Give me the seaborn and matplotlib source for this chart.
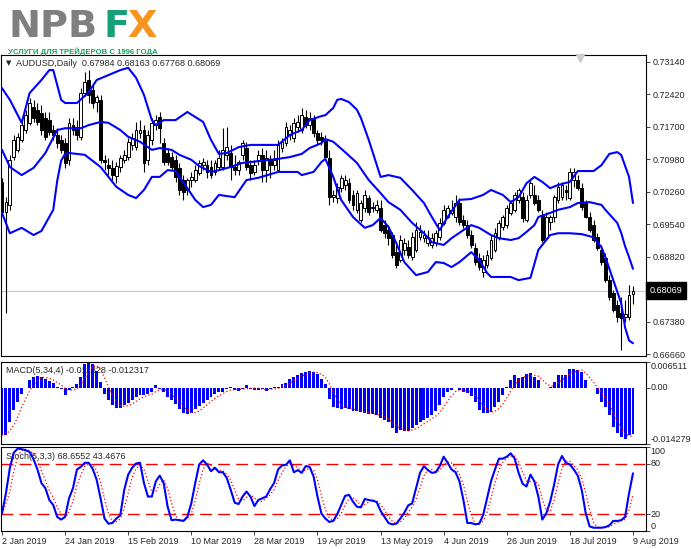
import numpy as np
import pandas as pd
import matplotlib
matplotlib.use("Agg")
import matplotlib.pyplot as plt
import matplotlib.transforms as mtransforms
import seaborn as sns

# -------------------------------------------------------
# DATA (AUDUSD daily, 2 Jan - 9 Aug 2019)
# -------------------------------------------------------

date_labels = ["2 Jan 2019", "24 Jan 2019", "15 Feb 2019", "10 Mar 2019", "28 Mar 2019",
               "19 Apr 2019", "13 May 2019", "4 Jun 2019", "26 Jun 2019", "18 Jul 2019",
               "9 Aug 2019"]
date_bars = [0, 16, 32, 48, 64, 80, 96, 112, 128, 144, 160]

opens = [
    0.7048, 0.6981, 0.6997, 0.7103, 0.7119, 0.7141, 0.7163, 0.7179, 0.7214, 0.7208,
    0.7201, 0.7190, 0.7185, 0.7163, 0.7152, 0.7141, 0.7134, 0.7097, 0.7174, 0.7170,
    0.7148, 0.7245, 0.7274, 0.7252, 0.7225, 0.7230, 0.7097, 0.7085, 0.7079, 0.7061,
    0.7081, 0.7097, 0.7103, 0.7130, 0.7125, 0.7156, 0.7163, 0.7097, 0.7141, 0.7174,
    0.7192, 0.7134, 0.7112, 0.7103, 0.7097, 0.7079, 0.7052, 0.7030, 0.7052, 0.7052,
    0.7068, 0.7085, 0.7085, 0.7081, 0.7070, 0.7081, 0.7081, 0.7108, 0.7112, 0.7081,
    0.7074, 0.7108, 0.7123, 0.7085, 0.7070, 0.7097, 0.7108, 0.7074, 0.7097, 0.7085,
    0.7074, 0.7123, 0.7134, 0.7152, 0.7145, 0.7170, 0.7163, 0.7192, 0.7174, 0.7190,
    0.7156, 0.7148, 0.7141, 0.7101, 0.7014, 0.7012, 0.7034, 0.7041, 0.7045, 0.7019,
    0.6986, 0.6963, 0.6990, 0.7012, 0.6990, 0.6986, 0.6990, 0.6952, 0.6941, 0.6930,
    0.6892, 0.6875, 0.6897, 0.6903, 0.6881, 0.6897, 0.6925, 0.6923, 0.6912, 0.6908,
    0.6912, 0.6925, 0.6957, 0.6970, 0.6979, 0.6970, 0.7001, 0.6963, 0.6952, 0.6930,
    0.6901, 0.6879, 0.6848, 0.6864, 0.6879, 0.6897, 0.6925, 0.6948, 0.6952, 0.6979,
    0.6986, 0.7008, 0.7014, 0.6963, 0.7019, 0.7019, 0.7008, 0.6974, 0.6923, 0.6959,
    0.6970, 0.7008, 0.7014, 0.7030, 0.7012, 0.7052, 0.7052, 0.7034, 0.7001, 0.6970,
    0.6952, 0.6925, 0.6897, 0.6879, 0.6830, 0.6801, 0.6775, 0.6757, 0.6748, 0.6748,
    0.67984]

highs = [
    0.7056, 0.7014, 0.7108, 0.7152, 0.7156, 0.7185, 0.7208, 0.7234, 0.7230, 0.7223,
    0.7219, 0.7203, 0.7203, 0.7174, 0.7167, 0.7152, 0.7145, 0.7190, 0.7190, 0.7185,
    0.7257, 0.7292, 0.7296, 0.7263, 0.7241, 0.7241, 0.7108, 0.7101, 0.7097, 0.7092,
    0.7108, 0.7119, 0.7145, 0.7156, 0.7181, 0.7185, 0.7174, 0.7163, 0.7190, 0.7196,
    0.7203, 0.7145, 0.7123, 0.7114, 0.7108, 0.7090, 0.7063, 0.7057, 0.7070, 0.7085,
    0.7097, 0.7101, 0.7097, 0.7097, 0.7097, 0.7119, 0.7167, 0.7170, 0.7130, 0.7108,
    0.7097, 0.7141, 0.7137, 0.7097, 0.7097, 0.7119, 0.7123, 0.7119, 0.7108, 0.7119,
    0.7141, 0.7145, 0.7181, 0.7174, 0.7190, 0.7196, 0.7212, 0.7208, 0.7203, 0.7196,
    0.7163, 0.7159, 0.7152, 0.7119, 0.7030, 0.7045, 0.7063, 0.7063, 0.7057, 0.7030,
    0.7030, 0.7008, 0.7030, 0.7019, 0.7003, 0.7008, 0.7008, 0.6963, 0.6952, 0.6937,
    0.6908, 0.6930, 0.6923, 0.6919, 0.6937, 0.6959, 0.6952, 0.6941, 0.6941, 0.6934,
    0.6941, 0.6968, 0.6997, 0.6997, 0.7008, 0.7019, 0.7012, 0.6974, 0.6963, 0.6941,
    0.6912, 0.6890, 0.6886, 0.6897, 0.6930, 0.6946, 0.6963, 0.6974, 0.6997, 0.7008,
    0.7026, 0.7034, 0.7026, 0.7019, 0.7052, 0.7041, 0.7019, 0.6986, 0.6981, 0.6974,
    0.7019, 0.7048, 0.7048, 0.7041, 0.7079, 0.7079, 0.7063, 0.7045, 0.7008, 0.6981,
    0.6963, 0.6934, 0.6908, 0.6890, 0.6841, 0.6808, 0.6786, 0.6792, 0.6786, 0.6819,
    0.68163]

lows = [
    0.6977, 0.6757, 0.6986, 0.7097, 0.7114, 0.7137, 0.7156, 0.7174, 0.7181, 0.7174,
    0.7152, 0.7141, 0.7152, 0.7141, 0.7123, 0.7112, 0.7079, 0.7085, 0.7152, 0.7141,
    0.7141, 0.7239, 0.7223, 0.7212, 0.7203, 0.7090, 0.7074, 0.7063, 0.7052, 0.7045,
    0.7070, 0.7090, 0.7097, 0.7119, 0.7119, 0.7145, 0.7070, 0.7085, 0.7130, 0.7163,
    0.7134, 0.7085, 0.7085, 0.7074, 0.7048, 0.7019, 0.7008, 0.7019, 0.7037, 0.7048,
    0.7063, 0.7074, 0.7057, 0.7057, 0.7063, 0.7074, 0.7074, 0.7097, 0.7052, 0.7063,
    0.7063, 0.7097, 0.7074, 0.7052, 0.7063, 0.7085, 0.7048, 0.7048, 0.7057, 0.7074,
    0.7070, 0.7114, 0.7128, 0.7141, 0.7137, 0.7159, 0.7156, 0.7167, 0.7163, 0.7148,
    0.7130, 0.7130, 0.7097, 0.6997, 0.7003, 0.7001, 0.7026, 0.7030, 0.7001, 0.6986,
    0.6979, 0.6959, 0.6981, 0.6974, 0.6981, 0.6979, 0.6937, 0.6923, 0.6908, 0.6879,
    0.6857, 0.6870, 0.6886, 0.6879, 0.6875, 0.6892, 0.6919, 0.6914, 0.6906, 0.6901,
    0.6906, 0.6919, 0.6952, 0.6968, 0.6974, 0.6959, 0.6952, 0.6946, 0.6923, 0.6901,
    0.6864, 0.6852, 0.6837, 0.6857, 0.6875, 0.6892, 0.6919, 0.6941, 0.6946, 0.6974,
    0.6981, 0.7001, 0.6959, 0.6959, 0.7012, 0.6997, 0.6981, 0.6914, 0.6919, 0.6941,
    0.6959, 0.7001, 0.7008, 0.7008, 0.7008, 0.7037, 0.7030, 0.6986, 0.6968, 0.6937,
    0.6914, 0.6897, 0.6864, 0.6826, 0.6786, 0.6759, 0.6737, 0.6675, 0.6737, 0.6741,
    0.67768]

closes = [
    0.6981, 0.7003, 0.7097, 0.7141, 0.7148, 0.7174, 0.7196, 0.7223, 0.7190, 0.7181,
    0.7163, 0.7148, 0.7159, 0.7152, 0.7134, 0.7119, 0.7090, 0.7179, 0.7163, 0.7152,
    0.7245, 0.7270, 0.7241, 0.7223, 0.7236, 0.7097, 0.7092, 0.7079, 0.7063, 0.7083,
    0.7101, 0.7108, 0.7137, 0.7145, 0.7163, 0.7163, 0.7090, 0.7152, 0.7179, 0.7185,
    0.7167, 0.7092, 0.7092, 0.7081, 0.7059, 0.7030, 0.7026, 0.7052, 0.7059, 0.7074,
    0.7090, 0.7092, 0.7070, 0.7063, 0.7090, 0.7101, 0.7119, 0.7125, 0.7081, 0.7074,
    0.7092, 0.7134, 0.7081, 0.7068, 0.7085, 0.7108, 0.7074, 0.7101, 0.7085, 0.7097,
    0.7130, 0.7137, 0.7170, 0.7163, 0.7179, 0.7181, 0.7196, 0.7174, 0.7190, 0.7156,
    0.7141, 0.7141, 0.7103, 0.7014, 0.7019, 0.7037, 0.7057, 0.7052, 0.7008, 0.6997,
    0.7023, 0.7001, 0.7019, 0.6981, 0.6992, 0.6997, 0.6941, 0.6934, 0.6923, 0.6886,
    0.6864, 0.6919, 0.6912, 0.6886, 0.6925, 0.6941, 0.6937, 0.6930, 0.6925, 0.6923,
    0.6934, 0.6957, 0.6986, 0.6990, 0.6986, 0.7001, 0.6959, 0.6952, 0.6930, 0.6908,
    0.6870, 0.6859, 0.6875, 0.6886, 0.6919, 0.6934, 0.6957, 0.6970, 0.6990, 0.7001,
    0.7019, 0.7030, 0.6968, 0.7008, 0.7045, 0.7001, 0.6986, 0.6919, 0.6970, 0.6970,
    0.7014, 0.7037, 0.7041, 0.7026, 0.7070, 0.7070, 0.7034, 0.6992, 0.6970, 0.6941,
    0.6919, 0.6901, 0.6870, 0.6830, 0.6792, 0.6763, 0.6748, 0.6746, 0.6754, 0.6797,
    0.68069]

# Bollinger bands as drawn (bar index, price)
upper_bar = [0, 2, 5, 7, 10, 12, 13, 14, 15, 16, 19, 22, 24, 27, 30, 32, 34, 36, 38, 39,
             41, 44, 47, 49, 51, 53, 55, 57, 60, 63, 70, 73, 76, 78, 81, 82, 84, 85, 86, 88,
             90, 91, 93, 96, 98, 101, 104, 107, 109, 111, 113, 116, 119, 122, 124, 127, 129, 131, 133, 135,
             137, 139, 141, 144, 146, 150, 152, 154, 156, 157, 159, 160]
upper_band = [0.7256, 0.7230, 0.7179, 0.7245, 0.7274, 0.7296, 0.7296, 0.7263, 0.7230, 0.7223,
              0.7223, 0.7247, 0.7274, 0.7285, 0.7296, 0.7301, 0.7279, 0.7241, 0.7185, 0.7174,
              0.7185, 0.7185, 0.7203, 0.7192, 0.7181, 0.7141, 0.7110, 0.7112, 0.7125, 0.7130,
              0.7130, 0.7152, 0.7163, 0.7185, 0.7194, 0.7196, 0.7212, 0.7230, 0.7232, 0.7225,
              0.7208, 0.7190, 0.7141, 0.7059, 0.7063, 0.7057, 0.7030, 0.7001, 0.6970, 0.6941,
              0.6970, 0.7008, 0.7010, 0.7019, 0.7030, 0.7019, 0.7003, 0.7014, 0.7045, 0.7059,
              0.7048, 0.7034, 0.7041, 0.7048, 0.7072, 0.7072, 0.7085, 0.7110, 0.7114, 0.7108,
              0.7059, 0.7001]

middle_bar = [0, 2, 5, 8, 11, 14, 16, 20, 22, 25, 27, 30, 32, 35, 38, 40, 43, 45, 48, 50,
              53, 55, 58, 61, 65, 70, 73, 76, 78, 81, 82, 84, 87, 90, 93, 96, 98, 101, 104, 107,
              109, 112, 114, 117, 119, 121, 124, 126, 129, 131, 133, 135, 136, 139, 141, 144, 146, 149, 152, 153,
              156, 157, 158, 159, 160]
middle_band = [0.7119, 0.7081, 0.7063, 0.7079, 0.7112, 0.7163, 0.7167, 0.7167, 0.7174, 0.7181,
               0.7179, 0.7163, 0.7148, 0.7137, 0.7119, 0.7123, 0.7119, 0.7108, 0.7097, 0.7083,
               0.7070, 0.7074, 0.7081, 0.7090, 0.7094, 0.7099, 0.7103, 0.7110, 0.7123, 0.7134,
               0.7143, 0.7137, 0.7114, 0.7090, 0.7052, 0.7023, 0.7003, 0.6986, 0.6957, 0.6934,
               0.6914, 0.6908, 0.6923, 0.6941, 0.6952, 0.6946, 0.6930, 0.6923, 0.6919, 0.6923,
               0.6937, 0.6952, 0.6970, 0.6979, 0.6986, 0.6992, 0.7001, 0.7003, 0.6997, 0.6986,
               0.6957, 0.6935, 0.6905, 0.6881, 0.6855]

lower_bar = [0, 2, 5, 8, 10, 13, 14, 15, 16, 17, 21, 25, 27, 29, 32, 34, 36, 38, 40, 42,
             44, 47, 49, 51, 53, 55, 59, 62, 65, 70, 75, 76, 79, 81, 82, 84, 86, 89, 92, 94,
             96, 98, 100, 102, 105, 108, 110, 112, 114, 116, 119, 121, 123, 124, 129, 131, 134, 136, 139, 141,
             144, 147, 150, 152, 153, 155, 157, 158, 159, 160]
lower_band = [0.6979, 0.6934, 0.6946, 0.6930, 0.6939, 0.6986, 0.7050, 0.7095, 0.7110, 0.7112,
              0.7108, 0.7081, 0.7059, 0.7037, 0.7019, 0.7012, 0.7030, 0.7059, 0.7059, 0.7074,
              0.7072, 0.7034, 0.7008, 0.6992, 0.6997, 0.7019, 0.7014, 0.7052, 0.7057, 0.7070,
              0.7070, 0.7063, 0.7070, 0.7092, 0.7099, 0.7059, 0.7008, 0.6970, 0.6946, 0.6952,
              0.6968, 0.6948, 0.6912, 0.6870, 0.6841, 0.6848, 0.6870, 0.6868, 0.6859, 0.6870,
              0.6892, 0.6875, 0.6846, 0.6837, 0.6837, 0.6830, 0.6835, 0.6897, 0.6930, 0.6934,
              0.6934, 0.6932, 0.6925, 0.6903, 0.6881, 0.6830, 0.6779, 0.6725, 0.6696, 0.6690]

# MACD(5,34,4) main line (histogram)
macd_main = [
    -0.01198, -0.01190, -0.00863, -0.00570, -0.00360, -0.00168, -0.00017, 0.00201, 0.00268, 0.00285,
    0.00268, 0.00226, 0.00168, 0.00117, 0.00017, -0.00025, -0.00193, -0.00050, 0.00017, 0.00101,
    0.00268, 0.00590, 0.00651, 0.00600, 0.00419, 0.00142, -0.00151, -0.00318, -0.00444, -0.00503,
    -0.00503, -0.00444, -0.00385, -0.00318, -0.00235, -0.00193, -0.00193, -0.00151, -0.00109, 0.00059,
    -0.00025, -0.00109, -0.00235, -0.00318, -0.00402, -0.00528, -0.00654, -0.00670, -0.00654, -0.00553,
    -0.00469, -0.00385, -0.00318, -0.00235, -0.00151, -0.00109, -0.00109, -0.00025, 0.00005, -0.00050,
    -0.00084, -0.00025, 0.00059, -0.00025, -0.00050, -0.00050, -0.00025, -0.00084, -0.00025, 0.00005,
    0.00017, 0.00101, 0.00117, 0.00226, 0.00268, 0.00310, 0.00369, 0.00394, 0.00419, 0.00394,
    0.00335, 0.00226, 0.00101, -0.00277, -0.00486, -0.00503, -0.00528, -0.00503, -0.00553, -0.00587,
    -0.00587, -0.00612, -0.00654, -0.00670, -0.00670, -0.00696, -0.00779, -0.00821, -0.00863, -0.01031,
    -0.01140, -0.01073, -0.01089, -0.01089, -0.01031, -0.00947, -0.00863, -0.00821, -0.00779, -0.00696,
    -0.00587, -0.00444, -0.00235, -0.00109, -0.00050, -0.00008, -0.00067, -0.00109, -0.00134, -0.00218,
    -0.00360, -0.00570, -0.00637, -0.00654, -0.00612, -0.00486, -0.00360, -0.00193, 0.00017, 0.00184,
    0.00310, 0.00243, 0.00268, 0.00352, 0.00369, 0.00268, 0.00184, -0.00008, -0.00017, 0.00017,
    0.00142, 0.00310, 0.00310, 0.00310, 0.00478, 0.00478, 0.00453, 0.00394, 0.00184, 0.00003,
    -0.00017, -0.00151, -0.00360, -0.00486, -0.00696, -0.00989, -0.01156, -0.01240, -0.01300, -0.01204,
    -0.011828]

# Stochastic(5,3,3) main line
stoch_main = [
    20.8, 45.0, 75.2, 93.3, 98.1, 97.4, 96.1, 94.1, 85.3, 73.2,
    57.1, 51.0, 36.9, 30.9, 16.8, 13.6, 16.8, 38.9, 51.0, 73.2,
    76.4, 81.2, 81.2, 74.0, 61.1, 38.9, 14.8, 8.7, 9.5, 14.8,
    18.8, 49.0, 67.1, 75.2, 80.4, 81.2, 57.1, 41.0, 41.0, 59.1,
    65.9, 57.1, 28.9, 12.8, 13.6, 12.8, 12.0, 16.8, 32.9, 57.1,
    79.2, 84.1, 79.2, 71.2, 75.2, 70.0, 70.0, 63.1, 49.0, 33.7,
    32.1, 41.0, 47.0, 41.0, 29.7, 36.9, 38.9, 41.0, 49.8, 57.1,
    73.2, 78.0, 78.8, 84.1, 70.0, 72.4, 69.2, 77.2, 76.4, 65.1,
    41.0, 20.8, 14.8, 10.8, 12.0, 20.0, 30.9, 41.8, 43.0, 34.9,
    28.9, 28.1, 38.1, 36.9, 36.1, 34.5, 24.0, 16.8, 9.5, 7.9,
    8.7, 14.8, 21.6, 30.5, 32.9, 51.0, 69.2, 77.2, 72.4, 69.2,
    70.0, 77.2, 88.5, 81.2, 73.2, 70.0, 59.1, 36.9, 9.5, 9.5,
    7.9, 8.7, 18.8, 38.9, 59.1, 73.2, 86.1, 86.1, 88.5, 92.5,
    86.1, 69.2, 56.3, 53.0, 67.1, 59.1, 41.0, 13.6, 20.8, 34.9,
    55.1, 79.2, 89.3, 81.2, 79.2, 73.2, 65.9, 49.0, 21.6, 5.5,
    3.9, 3.9, 3.9, 4.7, 6.7, 12.0, 12.0, 12.8, 16.8, 44.9,
    68.6552]

price_ticks = [0.73140, 0.72420, 0.71700, 0.70980, 0.70260, 0.69540, 0.68820, 0.67380, 0.66660]
last_price = 0.68069

# -------------------------------------------------------
# FIGURE LAYOUT
# -------------------------------------------------------

sns.set_style("white")
plt.rcParams["font.family"] = ["Liberation Sans", "DejaVu Sans"]

W, H = 691, 549
fig = plt.figure(figsize=(W / 100, H / 100), dpi=100)


def px_box(x0, y0, x1, y1):
    return [x0 / W, 1 - y1 / H, (x1 - x0) / W, (y1 - y0) / H]


ax = fig.add_axes(px_box(1, 55, 646, 356))
ax_m = fig.add_axes(px_box(1, 362, 646, 444))
ax_s = fig.add_axes(px_box(1, 447, 646, 531))

BLUE = "#0000ff"
FS = 6.5
bars = np.arange(len(closes))
xlim = (-0.25, 163.3)

for a in (ax, ax_m, ax_s):
    a.set_xlim(*xlim)
    a.set_facecolor("white")
    for sp in a.spines.values():
        sp.set_color("black")
        sp.set_linewidth(0.8)
    a.yaxis.tick_right()
    a.tick_params(axis="y", length=3, width=0.6, pad=2, labelsize=FS, direction="out")
    a.set_xticks([])
    a.set_xlabel("")
    a.set_ylabel("")

# -------------------------------------------------------
# PRICE PANEL: candles + Bollinger bands
# -------------------------------------------------------

o = np.array(opens)
h = np.array(highs)
l = np.array(lows)
c = np.array(closes)
up = c >= o
body_lo = np.minimum(o, c)
body_h = np.maximum(np.abs(c - o), 0.00005)

ax.axhline(last_price, color="#c8c8c8", lw=0.8, zorder=1)
ax.vlines(bars, l, h, color="black", lw=0.8, zorder=2)
ax.bar(bars[up], body_h[up], bottom=body_lo[up], width=0.72, color="white",
       edgecolor="black", linewidth=0.7, zorder=3)
ax.bar(bars[~up], body_h[~up], bottom=body_lo[~up], width=0.72, color="black",
       edgecolor="black", linewidth=0.7, zorder=3)

for xs, ys in ((upper_bar, upper_band), (middle_bar, middle_band), (lower_bar, lower_band)):
    sns.lineplot(x=xs, y=ys, ax=ax, color=BLUE, lw=1.5, zorder=4, estimator=None)

ax.set_ylim(0.66616, 0.73295)
ax.set_yticks(price_ticks)
ax.set_yticklabels([f"{v:.5f}" for v in price_ticks])
ax.set_xticks([])

blend = mtransforms.blended_transform_factory(ax.transAxes, ax.transData)
ax.text(1.005, last_price, f"{last_price:.5f}", transform=blend, ha="left", va="center",
        color="white", fontsize=FS,
        bbox=dict(boxstyle="square,pad=0.4", fc="black", ec="black"), clip_on=False)

ax.text(0.007, 0.972, "\u25bc", transform=ax.transAxes, fontsize=5, va="center",
        family=["DejaVu Sans"])
ax.text(0.024, 0.972, "AUDUSD,Daily  0.67984 0.68163 0.67768 0.68069",
        transform=ax.transAxes, fontsize=FS, va="center")
ax.plot([0.898], [0.99], marker="v", ms=6, color="#cccccc", mec="#cccccc",
        transform=ax.transAxes, clip_on=False, zorder=5)

# -------------------------------------------------------
# MACD PANEL
# -------------------------------------------------------

macd_signal = pd.Series(macd_main).rolling(4, min_periods=1).mean()
ax_m.text(0.008, 0.90, "MACD(5,34,4) -0.011828 -0.012317", transform=ax_m.transAxes,
          fontsize=FS, va="center", zorder=1)
ax_m.bar(bars, macd_main, width=0.75, color=BLUE, linewidth=0, zorder=2)
sns.lineplot(x=bars, y=macd_signal.values, ax=ax_m, color="red", lw=0.9, zorder=3,
             estimator=None)
ax_m.get_lines()[-1].set_linestyle((0, (1, 1.8)))
ax_m.set_ylim(-0.014279, 0.006511)
ax_m.set_yticks([0.006511, 0.0, -0.014279])
ax_m.set_yticklabels([])
ax_m.set_xticks([])
bm = mtransforms.blended_transform_factory(ax_m.transAxes, ax_m.transData)
ax_m.text(1.007, 0.006511, "0.006511", transform=bm, ha="left", va="top", fontsize=FS)
ax_m.text(1.007, 0.0, "0.00", transform=bm, ha="left", va="center", fontsize=FS)
ax_m.text(1.007, -0.014279, "-0.014279", transform=bm, ha="left", va="bottom", fontsize=FS)

# -------------------------------------------------------
# STOCHASTIC PANEL
# -------------------------------------------------------

stoch_signal = pd.Series(stoch_main).rolling(3, min_periods=1).mean()
ax_s.text(0.008, 0.885, "Stoch(5,3,3) 68.6552 43.4676", transform=ax_s.transAxes,
          fontsize=FS, va="center", zorder=1)
for lvl in (80, 20):
    ax_s.axhline(lvl, color="red", lw=1.0, linestyle=(0, (8.5, 4.5)), zorder=2)
sns.lineplot(x=bars, y=stoch_signal.values, ax=ax_s, color="red", lw=0.9, zorder=3,
             estimator=None)
ax_s.get_lines()[-1].set_linestyle((0, (1, 1.8)))
sns.lineplot(x=bars, y=stoch_main, ax=ax_s, color=BLUE, lw=1.5, zorder=4, estimator=None)
ax_s.set_ylim(0, 100)
ax_s.set_yticks([100, 80, 20, 0])
ax_s.set_yticklabels([])
bs = mtransforms.blended_transform_factory(ax_s.transAxes, ax_s.transData)
ax_s.text(1.007, 100, "100", transform=bs, ha="left", va="top", fontsize=FS)
ax_s.text(1.007, 80, "80", transform=bs, ha="left", va="center", fontsize=FS)
ax_s.text(1.007, 20, "20", transform=bs, ha="left", va="center", fontsize=FS)
ax_s.text(1.007, 0, "0", transform=bs, ha="left", va="bottom", fontsize=FS)

ax_s.set_xticks(date_bars)
ax_s.set_xticklabels(date_labels, ha="left", fontsize=FS)
ax_s.tick_params(axis="x", length=3, width=0.6, pad=1.5, direction="out", bottom=True)

# -------------------------------------------------------
# LOGO
# -------------------------------------------------------

base = 1 - 37 / H
logo_kw = dict(fontsize=27.5, fontweight="bold", family=["DejaVu Sans"], va="baseline")
fig.text(8 / W, base, "NPB", color="#7f7f7f", **logo_kw)
fig.text(103.5 / W, base, "F", color="#17a077", **logo_kw)
fig.text(127.5 / W, base, "X", color="#f7941d", **logo_kw)

sub = fig.text(8 / W, 1 - 53.5 / H, "УСЛУГИ ДЛЯ ТРЕЙДЕРОВ С 1996 ГОДА", fontsize=7.5,
               fontweight="bold", color="#17a05a", va="baseline",
               family=["Liberation Sans Narrow", "Liberation Sans", "DejaVu Sans"])
renderer = fig.canvas.get_renderer()
wpx = sub.get_window_extent(renderer=renderer).width
if wpx > 150:
    sub.set_fontsize(7.5 * 150 / wpx)

fig.savefig("out.png", dpi=100)
